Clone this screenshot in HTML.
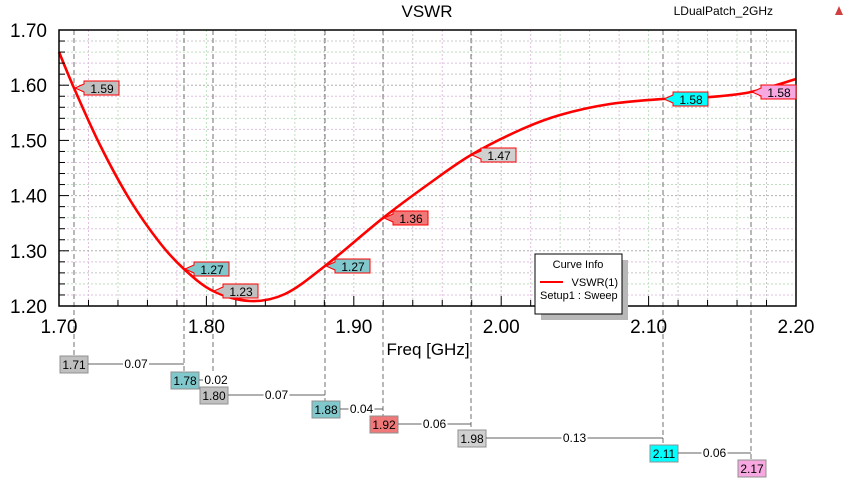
<!DOCTYPE html>
<html><head><meta charset="utf-8"><style>
body{margin:0;background:#fff;}
svg{display:block;font-family:"Liberation Sans",Arial,sans-serif;}
</style></head><body>
<svg id="s" width="854" height="481" viewBox="0 0 854 481" xmlns="http://www.w3.org/2000/svg">
<rect width="854" height="481" fill="#fff"/>
<g id="grid"></g>
<g id="vm"></g>
<path id="curve" fill="none" stroke="#ff0000" stroke-width="2.6"/>
<rect x="59" y="30" width="737" height="276" fill="none" stroke="#000" stroke-width="1.5"/>
<g id="ticks"></g>
<text x="427" y="17" font-size="17" text-anchor="middle">VSWR</text>
<text x="773" y="15" font-size="12" text-anchor="end">LDualPatch_2GHz</text>
<polygon points="839,6 835,15 843,15" fill="#d04040"/>
<text x="428" y="355" font-size="17" text-anchor="middle">Freq [GHz]</text>
<g id="marks"></g>
<g id="bot"></g>
<rect x="541" y="260" width="87" height="60" fill="#b8b8b8"/>
<rect x="535" y="254" width="87" height="60" fill="#fff" stroke="#000"/>
<text x="578" y="268" font-size="11" text-anchor="middle">Curve Info</text>
<line x1="540" y1="282" x2="563" y2="282" stroke="#f00" stroke-width="2"/>
<text x="618" y="286" font-size="11" text-anchor="end">VSWR(1)</text>
<text x="540" y="299" font-size="11">Setup1 : Sweep</text>
</svg>
<script>
const NS="http://www.w3.org/2000/svg";
function el(p,t,a,txt){const e=document.createElementNS(NS,t);for(const k in a)e.setAttribute(k,a[k]);if(txt!==undefined)e.textContent=txt;document.getElementById(p).appendChild(e);return e;}
const X=f=>59+(f-1.7)*1474, Y=v=>30+(1.7-v)*552;
const cols=["#c8c8c8","#e0c0e0","#c0e0c0"];
for(let i=1;i<25;i++){const x=X(1.7+i*0.02);el("grid","line",{x1:x,y1:30,x2:x,y2:306,stroke:cols[i%3],"stroke-dasharray":"2,2"});}
for(let i=1;i<25;i++){const y=Y(1.2+i*0.02);el("grid","line",{x1:59,y1:y,x2:796,y2:y,stroke:i%5==0?"#b0b0b0":cols[i%3],"stroke-dasharray":"2,2"});}
for(let i=0;i<=25;i++){const x=X(1.7+i*0.02);el("ticks","line",{x1:x,y1:306,x2:x,y2:i%5==0?296:300,stroke:"#000"});
 const y=Y(1.2+i*0.02);el("ticks","line",{x1:59,y1:y,x2:i%5==0?69:65,y2:y,stroke:"#000"});}
for(let i=0;i<=5;i++){el("ticks","text",{x:X(1.7+i*0.1),y:333,"font-size":19,"text-anchor":"middle"},(1.7+i*0.1).toFixed(2));
 el("ticks","text",{x:47,y:Y(1.2+i*0.1)+7,"font-size":19,"text-anchor":"end"},(1.2+i*0.1).toFixed(2));}
const P=[[59,52],[74,88],[100,145],[130,200],[160,243],[184,269],[213,291],[250,301],[285,294],[325,266],[383,218],[430,183],[471,155],[520,130],[560,115],[610,104],[663,99],[710,97],[751,92],[796,79]];
let d="M"+P[0];for(let i=0;i<P.length-1;i++){const p0=P[Math.max(i-1,0)],p1=P[i],p2=P[i+1],p3=P[Math.min(i+2,P.length-1)];
 d+=` C${p1[0]+(p2[0]-p0[0])/6},${p1[1]+(p2[1]-p0[1])/6} ${p2[0]-(p3[0]-p1[0])/6},${p2[1]-(p3[1]-p1[1])/6} ${p2[0]},${p2[1]}`;}
document.getElementById("curve").setAttribute("d",d);
const M=[[74,88,"1.59","#c0c0c0"],[184,269,"1.27","#80c8cc"],[213,291,"1.23","#c0c0c0"],[325,266,"1.27","#80c8cc"],[383,218,"1.36","#f07878"],[471,155,"1.47","#d0d0d0"],[663,99,"1.58","#00ffff"],[751,92,"1.58","#f8a8e0"]];
const B=[[74,356,"1.71","#c0c0c0"],[184,372,"1.78","#80c8cc"],[213,387,"1.80","#c0c0c0"],[325,401,"1.88","#80c8cc"],[383,416,"1.92","#f07878"],[471,430,"1.98","#d0d0d0"],[663,445,"2.11","#00ffff"],[751,460,"2.17","#f8a8e0"]];
const D=["0.07","0.02","0.07","0.04","0.06","0.13","0.06"];
M.forEach(m=>{const [x,y,t,c]=m;
 el("vm","line",{x1:x,y1:30,x2:x,y2:B[M.indexOf(m)][1],stroke:"#707070","stroke-dasharray":"5,3"});
 el("marks","polygon",{points:`${x+1},${y} ${x+10},${y-4} ${x+10},${y-7} ${x+45},${y-7} ${x+45},${y+7} ${x+10},${y+7} ${x+10},${y+4}`,fill:c,stroke:"#f00","stroke-width":1});
 el("marks","text",{x:x+28,y:y+5,"font-size":12,"text-anchor":"middle"},t);});
B.forEach((b,i)=>{const [x,y,t,c]=b;const bx=i==0?x-14:x-13;
 el("bot","rect",{x:bx,y:y,width:28,height:17,fill:c,stroke:"#909090"});
 el("bot","text",{x:bx+14,y:y+13,"font-size":12,"text-anchor":"middle"},t);
 if(i<7){const ly=y+8,nx=B[i+1][0],x0=bx+28;
  el("bot","line",{x1:x0,y1:ly,x2:nx,y2:ly,stroke:"#606060"});
  const w=26,mid=i==1?x0+17:(x0+nx)/2;
  el("bot","rect",{x:mid-w/2,y:ly-7,width:w,height:14,fill:"#fff"});
  el("bot","text",{x:mid,y:ly+4,"font-size":12,"text-anchor":"middle"},D[i]);}});
</script>
</body></html>
